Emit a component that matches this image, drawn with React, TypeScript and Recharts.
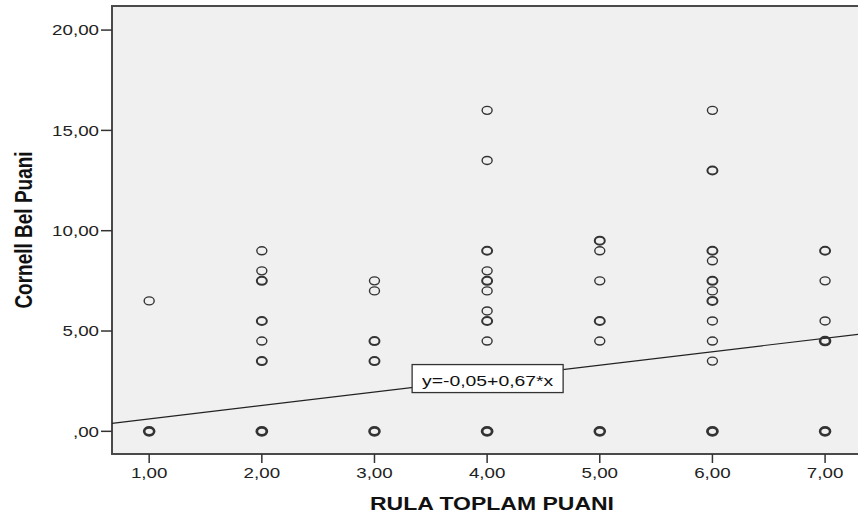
import {
  ScatterChart,
  Scatter,
  XAxis,
  YAxis,
  ReferenceArea,
  ReferenceLine,
  ReferenceDot,
  Customized,
} from 'recharts';

const rulaScores = [1, 2, 3, 4, 5, 6, 7];
// Cornell scores per RULA score (repeated values = overlapping cases)
const cornellByRula: number[][] = [
  [6.5, 0, 0, 0],
  [9, 8, 7.5, 7.5, 5.5, 5.5, 4.5, 3.5, 3.5, 0, 0, 0, 0],
  [7.5, 7, 4.5, 4.5, 3.5, 3.5, 0, 0, 0],
  [16, 13.5, 9, 9, 8, 7.5, 7.5, 7, 6, 5.5, 5.5, 4.5, 0, 0, 0, 0],
  [9.5, 9.5, 9, 7.5, 5.5, 5.5, 4.5, 0, 0, 0],
  [16, 13, 13, 9, 9, 8.5, 7.5, 7.5, 7, 6.5, 6.5, 5.5, 4.5, 3.5, 0, 0, 0, 0],
  [9, 9, 7.5, 5.5, 4.5, 4.5, 4.5, 0, 0, 0],
];
const xTicks = [1, 2, 3, 4, 5, 6, 7];
const yTicks = [0, 5, 10, 15, 20];
const intercept = -0.05;
const slope = 0.67;
const rSquared = '0,113';

const X_DOMAIN: [number, number] = [0.67, 7.31];
const Y_DOMAIN: [number, number] = [-1.13, 21.2];
const FONT = '"Liberation Sans", Arial, sans-serif';
const STRETCH = 1.25;

const points: { x: number; y: number; n: number }[] = [];
rulaScores.forEach((rx, i) => {
  const seen: Record<string, number> = {};
  cornellByRula[i].forEach((v) => {
    seen[v] = (seen[v] || 0) + 1;
  });
  Object.keys(seen).forEach((k) => {
    points.push({ x: rx, y: Number(k), n: seen[k] });
  });
});

const fmt = (v: number) => (v === 0 ? ',00' : v.toFixed(2).replace('.', ','));

const YTick = (props: any) => {
  const { x, y, payload } = props;
  return (
    <g transform={`translate(${x},${y}) scale(${STRETCH},1)`}>
      <text x={0} y={0} dy="0.36em" textAnchor="end" fontSize={15} fill="#222" fontFamily={FONT}>
        {fmt(payload.value)}
      </text>
    </g>
  );
};

const XTick = (props: any) => {
  const { x, y, payload } = props;
  return (
    <g transform={`translate(${x},${y + 13}) scale(${STRETCH},1)`}>
      <text x={0} y={0} textAnchor="middle" fontSize={15} fill="#222" fontFamily={FONT}>
        {fmt(payload.value)}
      </text>
    </g>
  );
};

const Ring = (props: any) => {
  const { cx, cy, payload } = props;
  const sw = Math.min(1.4 + 0.6 * (payload.n - 1), 2.8);
  return <ellipse cx={cx} cy={cy} rx={5} ry={4} fill="none" stroke="#333" strokeWidth={sw} />;
};

const EquationBox = (props: any) => {
  const { cx, cy } = props;
  return (
    <g>
      <rect x={cx - 75} y={cy - 14} width={151} height={28} fill="#fff" stroke="#333" strokeWidth={1.3} />
      <g transform={`translate(${cx + 0.5},${cy + 7}) scale(${STRETCH},1)`}>
        <text x={0} y={0} textAnchor="middle" fontSize={15.5} fill="#111" fontFamily={FONT}>
          {`y=${fmt(intercept)}+${fmt(slope)}*x`}
        </text>
      </g>
    </g>
  );
};

const Annotations = () => (
  <g fontFamily={FONT}>
    <g transform={`translate(683,47) scale(1.22,1)`}>
      <text x={0} y={0} fontSize={15.5} fill="#222">
        <tspan>R</tspan>
        <tspan fontSize={11} dy={-6}>2</tspan>
        <tspan dy={6}>{` Linear = ${rSquared}`}</tspan>
      </text>
    </g>
    <g transform={`translate(32,230) scale(1.27,1) rotate(-90)`}>
      <text x={0} y={0} textAnchor="middle" fontSize={19} fontWeight="bold" fill="#111">
        Cornell Bel Puani
      </text>
    </g>
    <g transform={`translate(492,510) scale(1.3,1)`}>
      <text x={0} y={0} textAnchor="middle" fontSize={17.7} fontWeight="bold" fill="#111">
        RULA TOPLAM PUANI
      </text>
    </g>
  </g>
);

const lineAt = (x: number) => intercept + slope * x;

export default function App() {
  return (
    <div style={{ position: 'absolute', left: 0, top: 0, width: 858, height: 518, overflow: 'hidden', background: '#fff' }}>
      <ScatterChart width={862} height={518} margin={{ top: 6, right: 2, bottom: 0, left: 0 }}>
        <ReferenceArea
          x1={X_DOMAIN[0]}
          x2={X_DOMAIN[1]}
          y1={Y_DOMAIN[0]}
          y2={Y_DOMAIN[1]}
          fill="#f0f0f0"
          fillOpacity={1}
          stroke="#4a4a4a"
          strokeWidth={2}
        />
        <XAxis
          type="number"
          dataKey="x"
          domain={X_DOMAIN}
          ticks={xTicks}
          height={64}
          axisLine={false}
          tickLine={{ stroke: '#333', strokeWidth: 1.5 }}
          tickSize={9}
          tick={<XTick />}
          allowDataOverflow
        />
        <YAxis
          type="number"
          dataKey="y"
          domain={Y_DOMAIN}
          ticks={yTicks}
          width={112}
          axisLine={false}
          tickLine={{ stroke: '#333', strokeWidth: 1.5 }}
          tickSize={11}
          tick={<YTick />}
          allowDataOverflow
        />
        <ReferenceLine
          segment={[
            { x: X_DOMAIN[0], y: lineAt(X_DOMAIN[0]) },
            { x: X_DOMAIN[1], y: lineAt(X_DOMAIN[1]) },
          ]}
          stroke="#222"
          strokeWidth={1.2}
        />
        <Scatter data={points} shape={<Ring />} isAnimationActive={false} />
        <ReferenceDot x={4} y={lineAt(4)} shape={<EquationBox />} />
        <Customized component={<Annotations />} />
      </ScatterChart>
    </div>
  );
}
